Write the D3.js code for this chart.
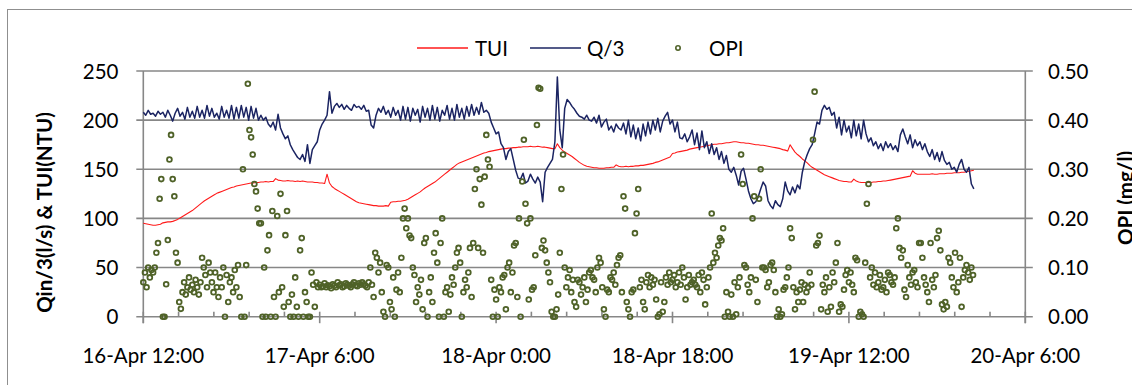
<!DOCTYPE html>
<html>
<head>
<meta charset="utf-8">
<script src="https://cdn.jsdelivr.net/npm/d3@7"></script>
<style>
  html, body { margin: 0; padding: 0; background: #fff; overflow: hidden; }
  svg text { font-family: Lato, "Open Sans", "Liberation Sans", sans-serif; fill: #000; }
</style>
</head>
<body>
<svg id="chart" width="1132" height="385"></svg>
<script>
// ---- Series ----------------------------------------------------------------
// Sampling: Q/3 and TUI every 15 minutes, OPI every 10 minutes, all starting 16-Apr 12:00.
const seriesStart = new Date(2013, 3, 16, 12, 0);
const lineStepMinutes = 15;
const opiStepMinutes = 10;

// Inflow / 3 (l/s), one row per hour
const qValues = [
  208,205,210,206, 207,204,209,206, 208,203,210,205, 199,207,212,204,
  208,201,213,203, 209,202,214,203, 210,202,215,204, 212,203,207,201,
  214,203,210,202, 215,201,213,202, 215,203,213,200, 214,202,212,200,
  205,200,203,196, 193,198,190,206, 192,186,181,184, 175,170,166,162,
  160,165,158,175, 156,170,174,178, 190,196,200,205, 229,207,214,217,
  213,216,211,215, 212,210,216,213, 214,211,215,209, 210,195,192,205,
  212,208,214,206, 210,203,213,205, 210,200,214,201, 213,199,212,205,
  211,198,214,203, 212,200,215,201, 213,199,210,205, 215,201,212,200,
  216,203,212,201, 214,204,216,205, 213,206,218,208, 210,207,198,192,
  186,188,176,172, 160,168,171,160, 149,141,140,146, 136,138,145,140,
  136,142,137,117, 147,152,156,160, 178,244,190,172, 212,221,218,214,
  211,207,204,203, 201,205,200,199, 203,197,205,193, 198,201,190,194,
  188,196,192,190, 197,186,200,183, 195,181,192,179, 196,184,198,186,
  200,190,202,188, 199,204,208,196, 200,188,198,182, 181,186,178,183,
  190,175,187,170, 189,172,178,166, 176,165,172,160, 168,156,164,150,
  147,152,144,134, 148,151,140,128, 120,115,117,122, 130,137,133,118,
  113,110,118,114, 112,120,137,128, 124,132,126,134, 130,147,158,165,
  171,175,186,198, 196,210,215,211, 213,205,208,192, 203,185,200,188,
  194,182,200,184, 196,181,200,186, 178,182,174,178, 171,176,169,178,
  172,176,170,174, 168,185,191,183, 176,185,172,180, 174,178,170,176,
  168,163,170,160, 167,158,168,159, 155,157,150,152, 147,155,160,150,
  147,152,135,130
];

// Turbidity (NTU), one row per hour
const tuiValues = [
  95,94.5,94,93.5, 93,93,93.5,94, 95.5,96,96.5,96.5, 97,98,99,100.5,
  102,103.5,105,106.5, 108,110,112,114, 116,118,119.5,121, 122.5,124,125.5,126.5,
  127.5,128.5,129.5,130.5, 131.5,132,133,133.5, 134,134.5,135,135.5, 136,136,136.5,136.5,
  137,137,137.5,137, 137.5,137.5,140.5,139, 138.5,138,138,138.5, 138,138,137.5,138,
  137.5,138,137.5,137, 137,137,136.5,136.5, 136,136,135.5,145, 136,132.5,130.5,129,
  127.5,126,124.5,123, 121.5,120,118.5,117, 116,115.5,115,114.5, 114,113.5,113,113,
  112.5,112.5,112.5,113, 112.5,116.5,117,117, 117.5,117.5,118,118.5, 119.5,121,122.5,124,
  125.5,127,129,131, 132.5,134,135.5,137, 139,141,143,145, 147,149,151,153,
  155,156.5,157.5,158.5, 159.5,160.5,161.5,162.5, 163.5,164.5,165.5,166.5, 167,168,168.5,169,
  169.5,170,170.5,171, 171,171.5,171.5,172, 172,172.5,172.5,173, 173,173,173.5,173,
  173,173.5,173,172.5, 172.5,172,171.5,171, 171,176,172,169.5, 167.5,166,164.5,163,
  161,159,157,155.5, 154,153,152.5,152, 151.5,151.5,151,151, 151,151.5,151.5,152,
  152,154.5,153,152.5, 152.5,153,152.5,153, 153,153.5,153.5,154, 154,154.5,155,155.5,
  156,157,157.5,158.5, 159.5,160.5,161.5,162.5, 166,166.5,167.5,168, 168.5,169,169.5,170.5,
  171,171.5,172,172.5, 173,173.5,174,174.5, 175,175.5,175.5,176, 176,176.5,177,177,
  177.5,178,178,177.5, 177,177,176.5,176.5, 176,175.5,175,175, 174.5,174.5,174,173.5,
  173,172.5,172,171.5, 171,170,169.5,168.5, 175,171,167.5,165, 163,160.5,158.5,156.5,
  154,152,150.5,149, 147.5,146,144.5,143.5, 142.5,141.5,140.5,139.5, 138.5,138,137.5,137.5,
  137,137,140,138, 137,136.5,136.5,136.5, 136.5,136.5,137,137, 137.5,137.5,138,138,
  138.5,139,139.5,140, 140.5,141,141.5,142, 142.5,143,148.5,146, 145,145,145,145,
  145,145,145.5,145, 145,145.5,145.5,145.5, 146,146,146,146.5, 146.5,146.5,147,147,
  147.5,148,148.5,149
];

// OPI (mg/l), one row per hour
const opiValues = [
  0.07,0.09,0.06,0.1,0.08,0.095,
  0.09,0.1,0.13,0.15,0.24,0.28,
  0.0,0.0,0.066,0.156,0.32,0.37,
  0.28,0.245,0.13,0.11,0.03,0.016,
  0.05,0.07,0.045,0.06,0.08,0.055,
  0.065,0.05,0.075,0.06,0.045,0.07,
  0.12,0.1,0.085,0.06,0.11,0.09,
  0.07,0.05,0.09,0.06,0.04,0.08,
  0.06,0.1,0.0,0.085,0.03,0.07,
  0.08,0.05,0.095,0.06,0.105,0.04,
  0.0,0.30,0.0,0.105,0.474,0.38,
  0.365,0.33,0.27,0.255,0.22,0.19,
  0.19,0.0,0.1,0.0,0.135,0.166,
  0.0,0.215,0.04,0.0,0.205,0.05,
  0.25,0.06,0.02,0.166,0.215,0.03,
  0.0,0.045,0.0,0.08,0.02,0.0,
  0.135,0.16,0.0,0.05,0.03,0.0,
  0.0,0.09,0.065,0.02,0.07,0.06,
  0.065,0.06,0.062,0.068,0.06,0.064,
  0.062,0.058,0.066,0.063,0.06,0.07,
  0.064,0.066,0.06,0.062,0.068,0.065,
  0.063,0.06,0.066,0.07,0.064,0.062,
  0.068,0.065,0.07,0.066,0.063,0.06,
  0.07,0.1,0.065,0.04,0.13,0.12,
  0.09,0.11,0.05,0.01,0.0,0.105,
  0.1,0.03,0.015,0.08,0.0,0.055,
  0.09,0.05,0.12,0.2,0.22,0.18,
  0.2,0.165,0.16,0.1,0.085,0.03,
  0.06,0.045,0.075,0.015,0.15,0.16,
  0.0,0.05,0.08,0.03,0.13,0.17,
  0.11,0.0,0.15,0.2,0.0,0.05,
  0.06,0.01,0.045,0.08,0.065,0.1,
  0.13,0.14,0.11,0.0,0.05,0.075,
  0.06,0.09,0.14,0.04,0.15,0.26,
  0.3,0.14,0.28,0.228,0.13,0.285,
  0.37,0.32,0.305,0.075,0.0,0.055,
  0.035,0.0,0.06,0.05,0.08,0.085,
  0.015,0.1,0.11,0.05,0.09,0.145,
  0.15,0.04,0.2,0.0,0.275,0.36,
  0.23,0.19,0.035,0.2,0.055,0.06,
  0.125,0.39,0.466,0.464,0.14,0.155,
  0.135,0.11,0.09,0.07,0.01,0.0,
  0.0,0.015,0.045,0.13,0.26,0.33,
  0.1,0.06,0.08,0.095,0.05,0.075,
  0.03,0.02,0.075,0.07,0.045,0.06,
  0.08,0.03,0.055,0.09,0.095,0.08,
  0.075,0.05,0.1,0.12,0.11,0.06,
  0.015,0.0,0.055,0.05,0.08,0.075,
  0.09,0.065,0.105,0.12,0.125,0.05,
  0.245,0.22,0.03,0.015,0.0,0.05,
  0.055,0.17,0.21,0.26,0.06,0.075,
  0.03,0.015,0.07,0.085,0.06,0.08,
  0.065,0.075,0.035,0.0,0.005,0.07,
  0.01,0.03,0.08,0.065,0.09,0.07,
  0.075,0.085,0.06,0.07,0.09,0.065,
  0.1,0.08,0.035,0.06,0.085,0.065,
  0.07,0.075,0.065,0.06,0.085,0.05,
  0.09,0.075,0.025,0.06,0.08,0.1,
  0.21,0.11,0.13,0.12,0.145,0.16,
  0.155,0.18,0.0,0.05,0.01,0.0,
  0.045,0.0,0.07,0.005,0.06,0.08,
  0.33,0.27,0.105,0.1,0.065,0.05,
  0.08,0.2,0.245,0.075,0.03,0.24,
  0.3,0.1,0.1,0.095,0.06,0.07,
  0.105,0.11,0.095,0.05,0.0,0.015,
  0.0,0.005,0.055,0.06,0.08,0.1,
  0.18,0.16,0.06,0.015,0.05,0.03,
  0.055,0.07,0.03,0.065,0.05,0.06,
  0.09,0.065,0.36,0.458,0.145,0.15,
  0.165,0.015,0.065,0.05,0.08,0.01,
  0.06,0.02,0.09,0.07,0.11,0.15,
  0.01,0.025,0.02,0.055,0.085,0.095,
  0.07,0.09,0.065,0.05,0.12,0.115,
  0.0,0.01,0.005,0.0,0.11,0.23,
  0.27,0.08,0.1,0.065,0.09,0.06,
  0.07,0.085,0.055,0.06,0.075,0.05,
  0.09,0.085,0.07,0.065,0.08,0.18,
  0.2,0.14,0.12,0.135,0.055,0.04,
  0.105,0.08,0.065,0.09,0.095,0.07,
  0.06,0.15,0.15,0.12,0.08,0.065,
  0.05,0.03,0.15,0.075,0.06,0.085,
  0.16,0.175,0.135,0.025,0.015,0.03,
  0.02,0.12,0.11,0.08,0.06,0.13,
  0.05,0.07,0.12,0.02,0.08,0.095,
  0.105,0.09,0.075,0.1,0.085
];

// ---- Axes definitions ------------------------------------------------------
const xDomain = [new Date(2013, 3, 16, 12, 0), new Date(2013, 3, 20, 6, 0)];
const xTickDates = [
  new Date(2013, 3, 16, 12, 0), new Date(2013, 3, 17, 6, 0), new Date(2013, 3, 18, 0, 0),
  new Date(2013, 3, 18, 18, 0), new Date(2013, 3, 19, 12, 0), new Date(2013, 3, 20, 6, 0)
];
const minorTickHours = 3.6;
const leftTicks = [0, 50, 100, 150, 200, 250];
const rightTicks = [0, 0.1, 0.2, 0.3, 0.4, 0.5];

const legendItems = ["TUI", "Q/3", "OPI"];
const leftTitle = "Qin/3(l/s) & TUI(NTU)";
const rightTitle = "OPI (mg/l)";

// ---- Layout ---------------------------------------------------------------
const plot = { left: 143.3, right: 1025.3, top: 71, bottom: 316.7 };
const colors = { tui: "#ff1a1a", q: "#1b2462", opi: "#4f6228", grid: "#878787", frame: "#8f8f8f" };
const fontSize = 20.5;
const markerR = 2.4;
const markerW = 1.8;

const svg = d3.select("#chart");

const x = d3.scaleTime().domain(xDomain).range([plot.left, plot.right]);
const yLeft = d3.scaleLinear().domain([0, 250]).range([plot.bottom, plot.top]);
const yRight = d3.scaleLinear().domain([0, 0.5]).range([plot.bottom, plot.top]);

const timeAt = (i, stepMin) => new Date(seriesStart.getTime() + i * stepMin * 60000);

// outer chart frame
svg.append("rect")
  .attr("x", 7.5).attr("y", 9.5).attr("width", 1200).attr("height", 400)
  .attr("fill", "none").attr("stroke", colors.frame).attr("stroke-width", 1);

// horizontal gridlines (with outside tick stubs on both sides)
svg.append("g").selectAll("line").data(leftTicks).join("line")
  .attr("x1", plot.left - 7).attr("x2", plot.right + 7.5)
  .attr("y1", d => yLeft(d)).attr("y2", d => yLeft(d))
  .attr("stroke", colors.grid).attr("stroke-width", 1.6);

// vertical axis lines
[plot.left, plot.right].forEach(px => {
  svg.append("line").attr("x1", px).attr("x2", px)
    .attr("y1", plot.top).attr("y2", plot.bottom + 6.5)
    .attr("stroke", colors.grid).attr("stroke-width", 1.6);
});

// major x ticks (crossing the axis)
svg.append("g").selectAll("line").data(xTickDates).join("line")
  .attr("x1", d => x(d)).attr("x2", d => x(d))
  .attr("y1", plot.bottom - 5).attr("y2", plot.bottom + 6.5)
  .attr("stroke", colors.grid).attr("stroke-width", 1.6);

// minor x ticks (inside)
const totalHours = (xDomain[1] - xDomain[0]) / 3600000;
const minorDates = d3.range(0, totalHours + 0.01, minorTickHours)
  .filter((h, i) => i % 5 !== 0)
  .map(h => new Date(xDomain[0].getTime() + h * 3600000));
svg.append("g").selectAll("line").data(minorDates).join("line")
  .attr("x1", d => x(d)).attr("x2", d => x(d))
  .attr("y1", plot.bottom - 5).attr("y2", plot.bottom)
  .attr("stroke", colors.grid).attr("stroke-width", 1.6);

// tick labels
const fmtX = d3.timeFormat("%-d-%b %-H:%M");
svg.append("g").selectAll("text").data(xTickDates).join("text")
  .attr("x", d => x(d)).attr("y", 363)
  .attr("text-anchor", "middle").attr("font-size", fontSize)
  .text(d => fmtX(d));

svg.append("g").selectAll("text").data(leftTicks).join("text")
  .attr("x", 118.5).attr("y", d => yLeft(d) + 7.5)
  .attr("text-anchor", "end").attr("font-size", fontSize)
  .text(d => d);

const fmtR = d3.format(".2f");
svg.append("g").selectAll("text").data(rightTicks).join("text")
  .attr("x", 1048).attr("y", d => yRight(d) + 7.5)
  .attr("text-anchor", "start").attr("font-size", fontSize)
  .text(d => fmtR(d));

// axis titles (the right one runs off the frame edge)
svg.append("text")
  .attr("transform", "translate(52,212.5) rotate(-90)")
  .attr("text-anchor", "middle").attr("font-size", fontSize).attr("font-weight", "bold")
  .text(leftTitle);
svg.append("text")
  .attr("transform", "translate(1133,245) rotate(-90)")
  .attr("text-anchor", "start").attr("font-size", fontSize).attr("font-weight", "bold")
  .text(rightTitle);

// ---- Data marks -----------------------------------------------------------
const lineTui = d3.line().x((d, i) => x(timeAt(i, lineStepMinutes))).y(d => yLeft(d));
const lineQ = d3.line().x((d, i) => x(timeAt(i, lineStepMinutes))).y(d => yLeft(d));

svg.append("path").datum(tuiValues)
  .attr("d", lineTui).attr("fill", "none")
  .attr("stroke", colors.tui).attr("stroke-width", 1.1).attr("stroke-linejoin", "round");

svg.append("path").datum(qValues)
  .attr("d", lineQ).attr("fill", "none")
  .attr("stroke", colors.q).attr("stroke-width", 1.5).attr("stroke-linejoin", "round");

svg.append("g").selectAll("circle").data(opiValues).join("circle")
  .attr("cx", (d, i) => x(timeAt(i, opiStepMinutes)))
  .attr("cy", d => yRight(d))
  .attr("r", markerR)
  .attr("fill", "none").attr("stroke", colors.opi).attr("stroke-width", markerW);

// ---- Legend ---------------------------------------------------------------
const legendY = 48;
const lg = svg.append("g");
lg.append("line").attr("x1", 417).attr("x2", 468).attr("y1", legendY).attr("y2", legendY)
  .attr("stroke", colors.tui).attr("stroke-width", 1.3);
lg.append("text").attr("x", 475).attr("y", legendY + 7.5).attr("font-size", fontSize).text(legendItems[0]);
lg.append("line").attr("x1", 530).attr("x2", 581).attr("y1", legendY).attr("y2", legendY)
  .attr("stroke", colors.q).attr("stroke-width", 1.5);
lg.append("text").attr("x", 587).attr("y", legendY + 7.5).attr("font-size", fontSize).text(legendItems[1]);
lg.append("circle").attr("cx", 678).attr("cy", legendY).attr("r", 2.2)
  .attr("fill", "none").attr("stroke", colors.opi).attr("stroke-width", 1.6);
lg.append("text").attr("x", 709).attr("y", legendY + 7.5).attr("font-size", fontSize).text(legendItems[2]);
</script>
</body>
</html>
